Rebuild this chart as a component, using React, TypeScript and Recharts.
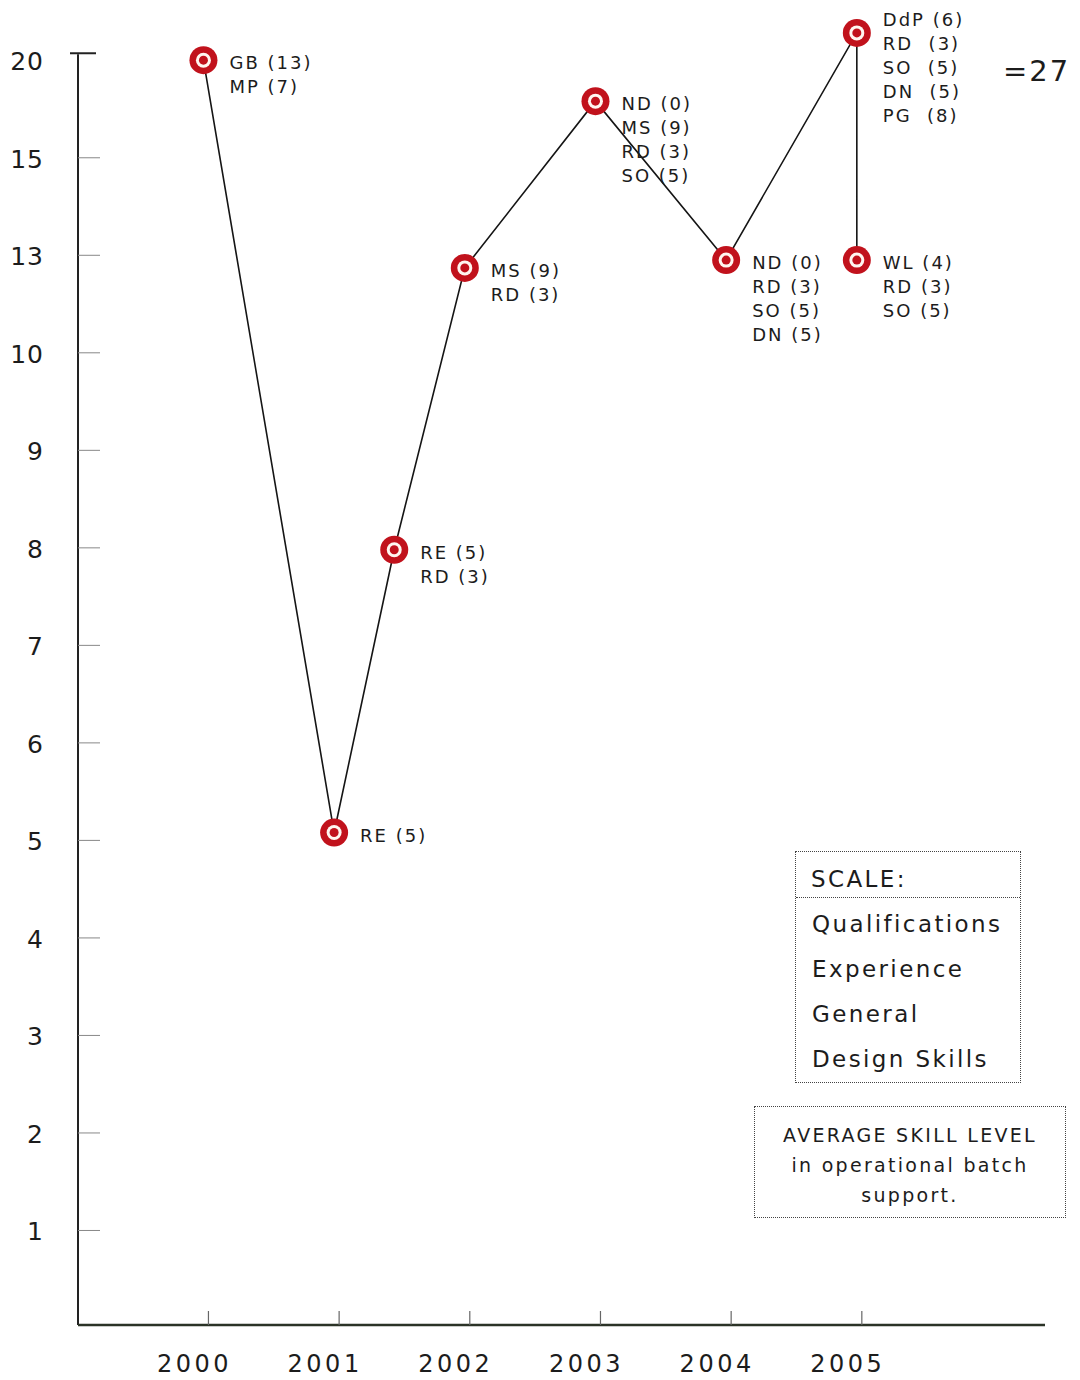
import { Line, LineChart, ReferenceLine, XAxis, YAxis } from "recharts";

// y positions are rank steps: the scale is not linear (…9, 10, 13, 15, 20)
const levelLabels = ["1", "2", "3", "4", "5", "6", "7", "8", "9", "10", "13", "15", "20"];
const levelTicks = [1, 2, 3, 4, 5, 6, 7, 8, 9, 10, 11, 12, 13];
const yearTicks = [2000, 2001, 2002, 2003, 2004, 2005];

const pointYears = [2000, 2001, 2001.46, 2002, 2003, 2004, 2005, 2005];
const pointLevels = [12.97, 5.05, 7.95, 10.84, 12.55, 10.92, 13.25, 10.92];
const pointNotes = [
  ["GB (13)", "MP (7)"],
  ["RE (5)"],
  ["RE (5)", "RD (3)"],
  ["MS (9)", "RD (3)"],
  ["ND (0)", "MS (9)", "RD (3)", "SO (5)"],
  ["ND (0)", "RD (3)", "SO (5)", "DN (5)"],
  ["DdP (6)", "RD  (3)", "SO  (5)", "DN  (5)", "PG  (8)"],
  ["WL (4)", "RD (3)", "SO (5)"],
];

const scaleItems = ["Qualifications", "Experience", "General", "Design Skills"];
const captionLines = ["AVERAGE SKILL LEVEL", "in operational batch", "support."];
const topTotal = "=27";

const data = pointYears.map((year, i) => ({
  year,
  level: pointLevels[i],
  notes: pointNotes[i],
}));

const FONT = "'DejaVu Sans', Verdana, sans-serif";
const RED = "#c1121c";
const INK = "#1c1c1c";
const X_DOMAIN: [number, number] = [1999.04, 2006.44];

function YTick({ x, y, payload }: any) {
  const isTop = payload.value === levelTicks[levelTicks.length - 1];
  return (
    <g>
      {isTop ? (
        <line x1={x - 8} x2={x + 18} y1={y - 4} y2={y - 4} stroke="#222" strokeWidth={2} />
      ) : (
        <line x1={x} x2={x + 22} y1={y + 3} y2={y + 3} stroke="#888" strokeWidth={1} />
      )}
      <text
        x={x - 34}
        y={y + 13}
        textAnchor="end"
        fontSize={25}
        letterSpacing={1}
        fill={INK}
        fontFamily={FONT}
      >
        {levelLabels[payload.value - 1]}
      </text>
    </g>
  );
}

function XTick({ x, y, payload }: any) {
  return (
    <g>
      <line x1={x + 5} x2={x + 5} y1={y - 14} y2={y} stroke="#666" strokeWidth={1.2} />
      <text
        x={x - 9}
        y={y + 47}
        textAnchor="middle"
        fontSize={24}
        letterSpacing={3.5}
        fill={INK}
        fontFamily={FONT}
      >
        {payload.value}
      </text>
    </g>
  );
}

function TargetDot({ cx, cy, payload, index }: any) {
  const notes: string[] = payload.notes;
  const startY = notes.length > 4 ? cy - 13 : cy + 3;
  return (
    <g key={`dot-${index}`}>
      <circle cx={cx} cy={cy} r={14} fill={RED} />
      <circle cx={cx} cy={cy} r={7.5} fill="#fff6f0" />
      <circle cx={cx} cy={cy} r={4.5} fill={RED} />
      <text
        x={cx + 26}
        y={startY}
        fontSize={18}
        letterSpacing={2}
        fill={INK}
        fontFamily={FONT}
        style={{ whiteSpace: "pre" }}
      >
        {notes.map((n, i) => (
          <tspan key={i} x={cx + 26} dy={i === 0 ? 6 : 24}>
            {n}
          </tspan>
        ))}
      </text>
    </g>
  );
}

export default function App() {
  return (
    <div style={{ position: "relative", width: 1080, height: 1380, background: "#fff", fontFamily: FONT }}>
      <style>{"body{margin:0}"}</style>
      <LineChart
        width={1080}
        height={1380}
        data={data}
        margin={{ top: 28, right: 35, bottom: 0, left: 0 }}
      >
        <XAxis
          dataKey="year"
          type="number"
          domain={X_DOMAIN}
          ticks={yearTicks}
          height={55}
          tickSize={0}
          tickMargin={0}
          tick={<XTick />}
          axisLine={{ stroke: "#2b3327", strokeWidth: 2.5 }}
        />
        <YAxis
          type="number"
          domain={[0, 13.3]}
          ticks={levelTicks}
          width={78}
          tickSize={0}
          tickMargin={0}
          tick={<YTick />}
          axisLine={false}
        />
        <ReferenceLine
          segment={[
            { x: X_DOMAIN[0], y: 0 },
            { x: X_DOMAIN[0], y: 13.03 },
          ]}
          stroke="#222"
          strokeWidth={2}
        />
        <Line
          dataKey="level"
          stroke="#151515"
          strokeWidth={1.6}
          dot={(p: any) => <TargetDot {...p} />}
          activeDot={false}
          isAnimationActive={false}
        />
      </LineChart>

      <div
        style={{
          position: "absolute",
          left: 1003,
          top: 53,
          fontSize: 29,
          lineHeight: "36px",
          letterSpacing: 2,
          color: INK,
        }}
      >
        {topTotal}
      </div>

      <div
        style={{
          position: "absolute",
          left: 795,
          top: 851,
          width: 226,
          height: 232,
          boxSizing: "border-box",
          border: "1.5px dotted #444",
          color: INK,
          fontSize: 23,
          letterSpacing: 2.4,
        }}
      >
        <div
          style={{
            height: 46,
            boxSizing: "border-box",
            paddingTop: 10,
            paddingLeft: 15,
            lineHeight: "34px",
            borderBottom: "1.5px dotted #444",
          }}
        >
          SCALE:
        </div>
        <div style={{ paddingTop: 4, paddingLeft: 16 }}>
          {scaleItems.map((s) => (
            <div key={s} style={{ lineHeight: "45px", whiteSpace: "nowrap" }}>
              {s}
            </div>
          ))}
        </div>
      </div>

      <div
        style={{
          position: "absolute",
          left: 754,
          top: 1106,
          width: 312,
          height: 112,
          boxSizing: "border-box",
          border: "1.5px dotted #444",
          paddingTop: 13,
          textAlign: "center",
          color: INK,
          fontSize: 19,
          letterSpacing: 2.3,
        }}
      >
        {captionLines.map((s) => (
          <div key={s} style={{ lineHeight: "30px", whiteSpace: "nowrap" }}>
            {s}
          </div>
        ))}
      </div>
    </div>
  );
}
